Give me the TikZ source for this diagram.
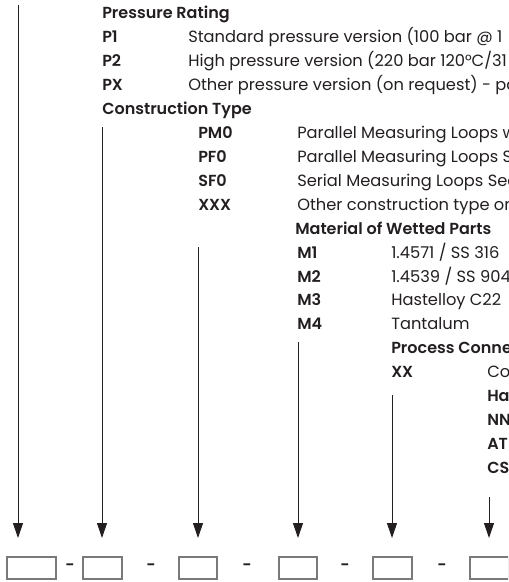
\documentclass[tikz,border=0pt]{standalone}
\usepackage{fontspec}
\setmainfont{Poppins}[BoldFont={Poppins SemiBold}]
\usepackage{tikz}
\usetikzlibrary{arrows.meta}
\definecolor{ink}{HTML}{231F20}
\definecolor{boxgray}{HTML}{7A7A7A}
\tikzset{
  head/.style={anchor=base west, inner sep=0pt, text=ink, font=\fontsize{12}{14}\selectfont\bfseries},
  code/.style={head},
  desc/.style={anchor=base west, inner sep=0pt, text=ink, font=\fontsize{12.2}{14}\selectfont},
  sep/.style={anchor=base, inner sep=0pt, text=ink, font=\fontsize{12}{14}\selectfont\bfseries},
  field/.style={draw=boxgray, line width=0.8pt, minimum height=16.5pt, inner sep=0pt},
  feed/.style={draw=ink, line width=0.75pt, -{Triangle[length=11.25pt,width=7.5pt]}},
}

\begin{document}
\begin{tikzpicture}[x=0.75pt,y=-0.75pt]
 \useasboundingbox (0,0) rectangle (508,582);
 \clip (0,0) rectangle (508,582);
 % pressure rating
 \node[head] (hpr) at (102,18.5) {Pressure Rating};
 \node[code] (p1) at (102,42.5) {P1};
 \node[desc] (p1d) at (188,42.5) {Standard pressure version (100 bar @ 1};
 \node[code] (p2) at (102,66.4) {P2};
 \node[desc] (p2d) at (188,66.4) {High pressure version (220 bar 120°C/31};
 \node[code] (px) at (102,90.4) {PX};
 \node[desc] (pxd) at (188,90.4) {Other pressure version (on request) - pa};
 % construction type
 \node[head] (hct) at (102,114.3) {Construction Type};
 \node[code] (pm0) at (198,138.3) {PM0};
 \node[desc] (pm0d) at (297,138.3) {Parallel Measuring Loops w};
 \node[code] (pf0) at (198,162.2) {PF0};
 \node[desc] (pf0d) at (297,162.2) {Parallel Measuring Loops Se};
 \node[code] (sf0) at (198,186.2) {SF0};
 \node[desc] (sf0d) at (297,186.2) {Serial Measuring Loops Sec};
 \node[code] (xxx) at (198,210.1) {XXX};
 \node[desc] (xxxd) at (297,210.1) {Other construction type on};
 % material
 \node[head] (hmw) at (295,234.1) {Material of Wetted Parts};
 \node[code] (m1) at (297,258) {M1};
 \node[desc] (m1d) at (391,258) {1.4571 / SS 316};
 \node[code] (m2) at (297,282) {M2};
 \node[desc] (m2d) at (391,282) {1.4539 / SS 904};
 \node[code] (m3) at (297,305.9) {M3};
 \node[desc] (m3d) at (391,305.9) {Hastelloy C22};
 \node[code] (m4) at (297,329.9) {M4};
 \node[desc] (m4d) at (391,329.9) {Tantalum};
 % process connection
 \node[head] (hpc) at (391,353.8) {Process Conne};
 \node[code] (xx) at (391,377.8) {XX};
 \node[desc] (xxd) at (487,377.8) {Co};
 \node[code] (ha) at (487,401.7) {Ha};
 \node[code] (nn) at (487,425.7) {NN};
 \node[code] (at) at (487,449.6) {AT};
 \node[code] (cs) at (487,473.6) {CS};
 % order code fields
 \node[field, minimum width=36.75pt] (b1) at (31.5,568) {};
 \node[field, minimum width=29.25pt] (b2) at (102.5,568) {};
 \node[field, minimum width=28.5pt] (b3) at (198,568) {};
 \node[field, minimum width=28.5pt] (b4) at (298,568) {};
 \node[field, minimum width=29.25pt] (b5) at (392.5,568) {};
 \node[field, minimum width=29.25pt] (b6) at (489.5,568) {};
 \node[sep] (s1) at (70,570) {-};
 \node[sep] (s2) at (151,570) {-};
 \node[sep] (s3) at (247,570) {-};
 \node[sep] (s4) at (345,570) {-};
 \node[sep] (s5) at (442,570) {-};
 % arrows
 \coordinate (t1) at (18,5);
 \coordinate (t2) at (102,127);
 \coordinate (t3) at (198,247);
 \coordinate (t4) at (298,342);
 \coordinate (t5) at (392,395);
 \coordinate (t6) at (489,497);
 \coordinate (e1) at (18,538);
 \coordinate (e2) at (102,538);
 \coordinate (e3) at (198,538);
 \coordinate (e4) at (298,538);
 \coordinate (e5) at (392,538);
 \coordinate (e6) at (489,538);
 \draw[feed] (t1) -- (e1);
 \draw[feed] (t2) -- (e2);
 \draw[feed] (t3) -- (e3);
 \draw[feed] (t4) -- (e4);
 \draw[feed] (t5) -- (e5);
 \draw[feed] (t6) -- (e6);
\end{tikzpicture}
\end{document}
